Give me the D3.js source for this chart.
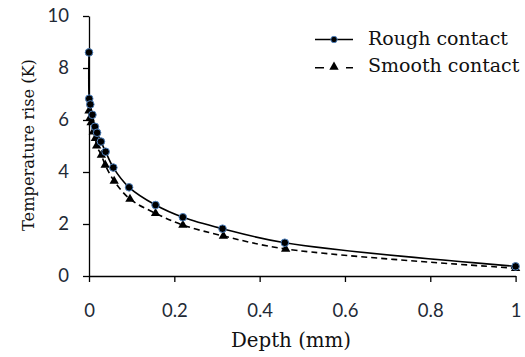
<!DOCTYPE html>
<html>
<head>
<meta charset="utf-8">
<script src="https://cdn.jsdelivr.net/npm/d3@7"></script>
<style>
  body { margin: 0; background: #fff; }
  svg { display: block; }
  .tick text { font-family: Lato, "Open Sans", sans-serif; font-size: 18.5px; fill: #1f2a36; }
  .title { font-family: "DejaVu Serif", serif; fill: #111; }
</style>
</head>
<body>
<svg width="525" height="357"></svg>
<script>
// depth (mm) and temperature rise (K)
const roughDepth = [0, 0.0005, 0.003, 0.008, 0.014, 0.019, 0.028, 0.039, 0.057, 0.094, 0.156, 0.22, 0.313, 0.459, 1];
const roughTemp  = [8.6, 6.82, 6.6, 6.2, 5.74, 5.51, 5.17, 4.78, 4.17, 3.41, 2.73, 2.26, 1.82, 1.28, 0.37];
const smoothDepth = [0, 0.002, 0.005, 0.01, 0.015, 0.018, 0.029, 0.038, 0.059, 0.096, 0.156, 0.22, 0.315, 0.461, 1];
const smoothTemp  = [6.35, 6.07, 5.9, 5.55, 5.3, 5.01, 4.65, 4.27, 3.65, 2.96, 2.41, 1.96, 1.54, 1.04, 0.3];
const xTicks = [0, 0.2, 0.4, 0.6, 0.8, 1];
const yTicks = [0, 2, 4, 6, 8, 10];

const svg = d3.select('svg');
const x = d3.scaleLinear().domain([0, 1]).range([89, 515.6]);
const y = d3.scaleLinear().domain([0, 10]).range([276, 16]);

// axes
let xAxis = svg.append('g')
    .attr('transform', `translate(0,${y(0)})`)
    .call(d3.axisBottom(x).tickValues(xTicks).tickFormat(d => d === 0 || d === 1 ? d : d.toFixed(1)).tickSizeInner(6).tickSizeOuter(0).tickPadding(22));
let yAxis = svg.append('g')
    .attr('transform', `translate(${x(0)},0)`)
    .call(d3.axisLeft(y).tickValues(yTicks).tickSizeInner(6).tickSizeOuter(0).tickPadding(14));
[xAxis, yAxis].forEach(a => {
    a.select('.domain').attr('stroke', '#000').attr('stroke-width', 1.3);
    a.selectAll('.tick line').attr('stroke', '#000').attr('stroke-width', 1.3);
});

const rough = roughDepth.map((d, i) => ({ x: d, y: roughTemp[i] }));
const smooth = smoothDepth.map((d, i) => ({ x: d, y: smoothTemp[i] }));

let line = d3.line().x(d => x(d.x)).y(d => y(d.y)).curve(d3.curveCatmullRom.alpha(0.5));

svg.append('path').datum(smooth)
    .attr('d', line).attr('fill', 'none').attr('stroke', '#000')
    .attr('stroke-width', 1.6).attr('stroke-dasharray', '6,4');
svg.append('path').datum(rough)
    .attr('d', line).attr('fill', 'none').attr('stroke', '#000')
    .attr('stroke-width', 1.6);

let tri = d3.symbol().type(d3.symbolTriangle).size(38);
svg.append('g').selectAll('path').data(smooth).join('path')
    .attr('d', tri)
    .attr('transform', d => `translate(${x(d.x)},${y(d.y)})`)
    .attr('fill', '#000');

svg.append('g').selectAll('circle').data(rough).join('circle')
    .attr('cx', d => x(d.x)).attr('cy', d => y(d.y)).attr('r', 3.8)
    .attr('fill', '#000').attr('stroke', '#4f81bd').attr('stroke-width', 1);

// legend
let legend = svg.append('g');
legend.append('line').attr('x1', 315).attr('x2', 353).attr('y1', 39.5).attr('y2', 39.5)
    .attr('stroke', '#000').attr('stroke-width', 1.6);
legend.append('circle').attr('cx', 334).attr('cy', 39.5).attr('r', 3.2)
    .attr('fill', '#000').attr('stroke', '#4f81bd').attr('stroke-width', 1);
legend.append('line').attr('x1', 315).attr('x2', 353).attr('y1', 67.7).attr('y2', 67.7)
    .attr('stroke', '#000').attr('stroke-width', 1.6).attr('stroke-dasharray', '9,22');
legend.append('path').attr('d', tri).attr('transform', 'translate(334,67)').attr('fill', '#000');
legend.append('text').attr('class', 'title').attr('x', 368).attr('y', 44.5)
    .style('font-size', '19px').text('Rough contact');
legend.append('text').attr('class', 'title').attr('x', 368).attr('y', 72)
    .style('font-size', '19px').text('Smooth contact');

// axis titles
svg.append('text').attr('class', 'title').attr('x', 291).attr('y', 347)
    .style('font-size', '19.8px')
    .attr('text-anchor', 'middle').text('Depth (mm)');
svg.append('text').attr('class', 'title')
    .attr('transform', 'translate(34,145) rotate(-90)')
    .style('font-size', '16.2px')
    .attr('text-anchor', 'middle').text('Temperature rise (K)');
</script>
</body>
</html>
